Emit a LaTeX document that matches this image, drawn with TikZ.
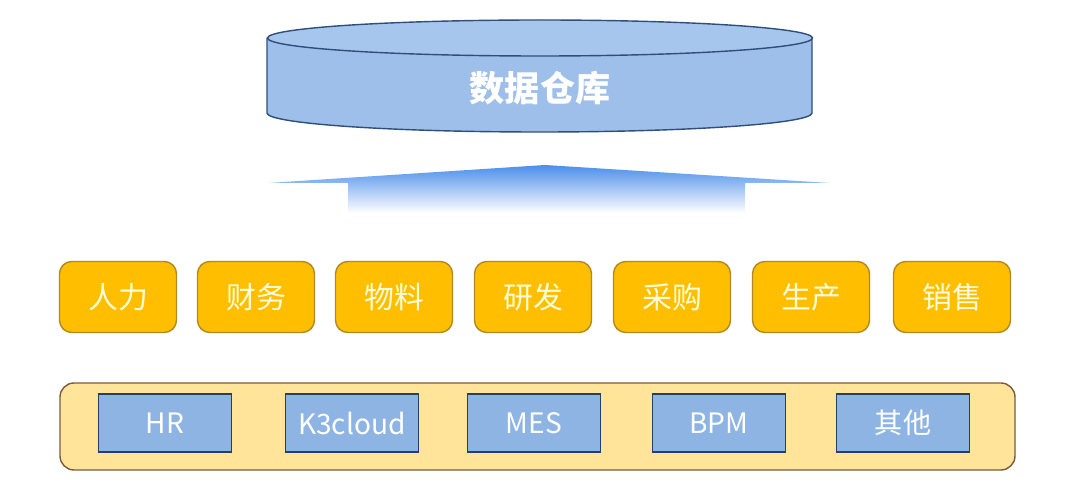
\documentclass[tikz,border=0pt]{standalone}
\usepackage{fontspec}
\setmainfont{Noto Sans CJK SC}
\usetikzlibrary{shadings}
\definecolor{cyl}{HTML}{9DBFEA}
\definecolor{cyltop}{HTML}{A6C6EE}
\definecolor{cyle}{HTML}{2F4F7A}
\definecolor{yel}{HTML}{FFBF00}
\definecolor{yele}{HTML}{B08A20}
\definecolor{lyel}{HTML}{FFE49A}
\definecolor{brn}{HTML}{7A5A3A}
\definecolor{sblue}{HTML}{8EB4E3}
\definecolor{arr}{HTML}{4A8EEA}
\newlength{\pxu}\setlength{\pxu}{0.02cm}
\tikzset{
 ybox/.style={draw=yele,line width=0.8pt,fill=yel,rounded corners=7pt,minimum width=117\pxu,minimum height=71\pxu,inner sep=0pt,text=white!85!yellow,font=\fontsize{17}{17}\selectfont},
 bbox/.style={draw=cyle!80!black,line width=1pt,fill=sblue,minimum width=133\pxu,minimum height=58\pxu,inner sep=0pt,text=white,font=\fontsize{16}{16}\selectfont},
}
\begin{document}
\begin{tikzpicture}[x=0.02cm,y=-0.02cm]
\useasboundingbox[fill=white] (0,0) rectangle (1080,486);
% cylinder
\fill[cyl] (267,38) -- (267,113) arc[start angle=180,end angle=0,x radius=272.5,y radius=19] -- (812,38) -- cycle;
\draw[cyle,line width=0.8pt] (267,38) -- (267,113) arc[start angle=180,end angle=0,x radius=272.5,y radius=19] -- (812,38);
\draw[cyle,line width=0.8pt,fill=cyltop] (540,38) ellipse[x radius=272.5,y radius=18];
\node[text=white,font=\fontsize{20}{20}\bfseries\selectfont] (dw) at (540,88) {数据仓库};
% arrow
\shade[top color=arr,bottom color=white] (268,183) -- (545,165) -- (830,183) -- (745,183) -- (745,213) -- (348,213) -- (348,183) -- cycle;
% yellow row
\foreach \n/\x/\t in {a/118/人力,b/256/财务,c/394/物料,d/533/研发,e/672/采购,f/811/生产,g/952/销售}
  \node[ybox] (\n) at (\x,297) {\t};
% bottom container
\node[draw=brn,line width=0.8pt,fill=lyel,rounded corners=8pt,minimum width=955\pxu,minimum height=87\pxu] (sys) at (537.5,426.5) {};
\foreach \n/\x/\t in {hr/165/HR,k3/352/K3cloud,mes/534/MES,bpm/719/BPM,qt/903/其他}
  \node[bbox] (\n) at (\x,423) {\t};
\end{tikzpicture}
\end{document}
